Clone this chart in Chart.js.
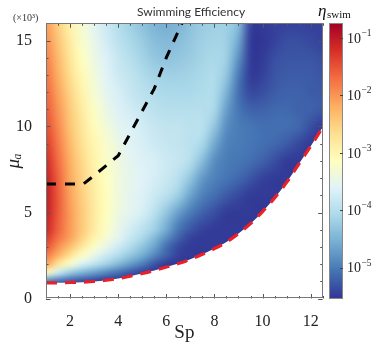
<!DOCTYPE html>
<html><head><meta charset="utf-8">
<script src="https://cdn.jsdelivr.net/npm/chart.js@4.4.0/dist/chart.umd.min.js"></script>
<style>html,body{margin:0;padding:0;background:#fff;overflow:hidden}#wrap{width:374px;height:346px}</style>
</head><body><div id="wrap"><canvas id="c" width="374" height="346"></canvas></div>
<script>
// ---- data (log10 of swimming efficiency) ----
const spGrid = [1,1.5,2,2.5,3,3.5,4,4.5,5,5.5,6,6.5,7,7.5,8,8.5,9,9.5,10,10.5,11,11.5,12,12.5];
const muUpper = [16,15,14,13,12,11,10,9,8,7,6,5,4];
const logEtaUpper = [
 [-2.05,-2.5,-2.95,-3.3,-3.55,-3.8,-4.0,-4.2,-4.35,-4.5,-4.55,-4.5,-4.35,-4.25,-4.2,-4.2,-4.4,-5.45,-5.5,-5.45,-5.45,-5.45,-5.45,-5.45],
 [-1.95,-2.4,-2.85,-3.25,-3.5,-3.75,-3.95,-4.1,-4.25,-4.4,-4.45,-4.4,-4.3,-4.2,-4.15,-4.2,-4.6,-5.5,-5.55,-5.45,-5.35,-5.35,-5.4,-5.45],
 [-1.85,-2.3,-2.75,-3.15,-3.45,-3.65,-3.85,-4.0,-4.15,-4.3,-4.35,-4.3,-4.25,-4.15,-4.1,-4.2,-4.8,-5.5,-5.5,-5.35,-5.3,-5.3,-5.3,-5.35],
 [-1.75,-2.2,-2.65,-3.05,-3.35,-3.6,-3.8,-3.9,-4.05,-4.15,-4.2,-4.2,-4.15,-4.1,-4.05,-4.3,-5.0,-5.5,-5.45,-5.3,-5.25,-5.25,-5.25,-5.3],
 [-1.65,-2.1,-2.55,-2.95,-3.3,-3.55,-3.7,-3.85,-3.95,-4.05,-4.1,-4.1,-4.1,-4.05,-4.05,-4.5,-5.1,-5.4,-5.35,-5.25,-5.2,-5.2,-5.25,-5.25],
 [-1.55,-2.0,-2.45,-2.85,-3.2,-3.45,-3.65,-3.75,-3.85,-3.95,-4.0,-4.0,-4.0,-4.0,-4.1,-4.7,-5.05,-5.2,-5.2,-5.15,-5.15,-5.2,-5.2,-5.25],
 [-1.45,-1.9,-2.4,-2.75,-3.1,-3.35,-3.55,-3.65,-3.75,-3.85,-3.9,-3.9,-3.95,-3.95,-4.3,-4.85,-5.0,-5.05,-5.1,-5.1,-5.1,-5.15,-5.35,-5.5],
 [-1.3,-1.8,-2.3,-2.7,-3.0,-3.25,-3.45,-3.6,-3.7,-3.8,-3.85,-3.9,-3.95,-4.1,-4.6,-4.95,-5.0,-5.05,-5.1,-5.15,-5.25,-5.4,-5.5,null],
 [-1.15,-1.7,-2.2,-2.6,-2.95,-3.2,-3.4,-3.55,-3.65,-3.7,-3.8,-3.85,-4.0,-4.4,-4.85,-5.0,-5.05,-5.1,-5.2,-5.35,-5.5,-5.5,null,null],
 [-1.05,-1.6,-2.15,-2.55,-2.9,-3.15,-3.38,-3.52,-3.62,-3.72,-3.82,-3.98,-4.3,-4.75,-4.95,-5.05,-5.15,-5.3,-5.45,-5.5,-5.5,null,null,null],
 [-1.0,-1.55,-2.1,-2.5,-2.85,-3.12,-3.38,-3.55,-3.65,-3.8,-3.95,-4.2,-4.65,-4.95,-5.1,-5.25,-5.4,-5.5,-5.5,-5.5,null,null,null,null],
 [-1.03,-1.55,-2.05,-2.45,-2.82,-3.12,-3.4,-3.55,-3.7,-3.95,-4.3,-4.7,-5.0,-5.2,-5.35,-5.5,-5.5,-5.5,null,null,null,null,null,null],
 [-1.12,-1.62,-2.05,-2.45,-2.85,-3.2,-3.5,-3.75,-3.95,-4.2,-4.6,-5.05,-5.3,-5.45,-5.5,-5.5,-5.5,null,null,null,null,null,null,null]
];
const muLower = [4,3.5,3,2.5,2,1.5,1,0.5,0];
const logEtaLower = [
 [-1.12,-1.62,-2.05,-2.45,-2.85,-3.2,-3.5,-3.75,-3.95,-4.2,-4.6,-5.05,-5.3,-5.45,-5.5,-5.5,-5.5,null,null,null,null,null,null,null],
 [-1.3,-1.75,-2.1,-2.55,-2.97,-3.3,-3.57,-3.85,-4.1,-4.45,-4.85,-5.2,-5.45,-5.5,-5.5,-5.5,null,null,null,null,null,null,null,null],
 [-1.5,-1.95,-2.35,-2.8,-3.22,-3.5,-3.78,-4.05,-4.33,-4.65,-5.1,-5.4,-5.5,-5.5,-5.5,null,null,null,null,null,null,null,null,null],
 [-1.8,-2.22,-2.7,-3.2,-3.5,-3.8,-4.05,-4.3,-4.57,-4.9,-5.2,-5.45,-5.5,null,null,null,null,null,null,null,null,null,null,null],
 [-2.1,-2.75,-3.27,-3.67,-3.93,-4.18,-4.45,-4.72,-4.98,-5.3,-5.5,null,null,null,null,null,null,null,null,null,null,null,null,null],
 [-3.05,-3.8,-4.25,-4.5,-4.7,-4.9,-5.1,-5.3,-5.45,null,null,null,null,null,null,null,null,null,null,null,null,null,null,null],
 [-4.9,-5.1,-5.25,-5.35,-5.45,null,null,null,null,null,null,null,null,null,null,null,null,null,null,null,null,null,null,null],
 [null,null,null,null,null,null,null,null,null,null,null,null,null,null,null,null,null,null,null,null,null,null,null,null],
 [null,null,null,null,null,null,null,null,null,null,null,null,null,null,null,null,null,null,null,null,null,null,null,null]
];
// lower limit of the valid region (red dashed line)
const boundarySp = [1,1.5,2,2.5,3,3.5,4,4.5,5,5.5,6,6.5,7,7.5,8,8.5,9,9.5,10,10.5,11,11.5,12,12.5];
const boundaryMu = [0.90,0.91,0.93,0.95,0.99,1.06,1.16,1.30,1.45,1.63,1.83,2.03,2.28,2.57,2.90,3.28,3.78,4.35,5.05,5.85,6.75,7.8,8.85,9.95];
// black dashed line
const blackSp = [1,2.55,3,3.5,4,4.5,5,5.5,6,6.5,6.65];
const blackMu = [6.65,6.65,7.15,7.73,8.3,9.6,10.9,12.2,14.0,15.55,16.0];
// axes
const xTickValues = [2,4,6,8,10,12];
const yTickValues = [0,5,10,15];
const cbExponents = [-5,-4,-3,-2,-1];
const cbLogMin = -5.535, cbLogMax = -0.745;

// ---- colour map (RdYlBu reversed) ----
const STOPS = ['#313695','#4575b4','#74add1','#abd9e9','#e0f3f8','#ffffbf','#fee090','#fdae61','#f46d43','#d73027','#a50026']
  .map(h => [parseInt(h.slice(1,3),16), parseInt(h.slice(3,5),16), parseInt(h.slice(5,7),16)]);
function cmap(v) {
  let t = (v - cbLogMin) / (cbLogMax - cbLogMin);
  t = Math.max(0, Math.min(1, t));
  const n = STOPS.length - 1, f = t * n, i = Math.min(n - 1, Math.floor(f)), u = f - i;
  const a = STOPS[i], b = STOPS[i + 1];
  return [a[0] + (b[0]-a[0])*u, a[1] + (b[1]-a[1])*u, a[2] + (b[2]-a[2])*u];
}
function gridCanvas(rows) {
  const w = spGrid.length, h = rows.length;
  const c = document.createElement('canvas'); c.width = w; c.height = h;
  const g = c.getContext('2d'); const img = g.createImageData(w, h);
  for (let r = 0; r < h; r++) for (let k = 0; k < w; k++) {
    let v = rows[r][k]; if (v === null) v = cbLogMin;
    const col = cmap(v), o = (r * w + k) * 4;
    img.data[o] = col[0]; img.data[o+1] = col[1]; img.data[o+2] = col[2]; img.data[o+3] = 255;
  }
  g.putImageData(img, 0, 0); return c;
}

const heatmapPlugin = {
  id: 'heatmap',
  beforeDatasetsDraw(chart) {
    const {ctx, chartArea: a, scales: {x, y}} = chart;
    const hs = (spGrid[1] - spGrid[0]) / 2;
    const px0 = x.getPixelForValue(spGrid[0] - hs), px1 = x.getPixelForValue(spGrid[spGrid.length-1] + hs);
    const seam = Math.round(y.getPixelForValue(muLower[0]));
    const floor = Math.round(y.getPixelForValue(Math.min(...boundaryMu) - 0.15));
    const draw = (mus, rows, top, bot) => {
      const hm = Math.abs(mus[0] - mus[1]) / 2;
      const py0 = y.getPixelForValue(mus[0] + hm), py1 = y.getPixelForValue(mus[mus.length-1] - hm);
      ctx.save(); ctx.beginPath(); ctx.rect(a.left, top, a.right - a.left, bot - top); ctx.clip();
      ctx.imageSmoothingEnabled = true; ctx.imageSmoothingQuality = 'high';
      ctx.drawImage(gridCanvas(rows), px0, py0, px1 - px0, py1 - py0);
      ctx.restore();
    };
    draw(muUpper, logEtaUpper, a.top, seam + 1);
    draw(muLower, logEtaLower, seam, Math.min(a.bottom, floor));
  }
};

const framePlugin = {
  id: 'frame',
  afterDatasetsDraw(chart) {
    const {ctx, chartArea: a, scales: {x, y, y2}} = chart;
    ctx.save();
    // ticks (inward, all four sides)
    ctx.strokeStyle = '#555'; ctx.lineWidth = 1;
    ctx.beginPath();
    for (let v = x.min; v <= x.max + 1e-9; v += 0.5) {
      const p = Math.round(x.getPixelForValue(v)) + 0.5;
      const L = xTickValues.includes(v) ? 4.5 : 2.5;
      ctx.moveTo(p, a.bottom); ctx.lineTo(p, a.bottom - L);
      ctx.moveTo(p, a.top); ctx.lineTo(p, a.top + L);
    }
    for (let v = y.min; v <= y.max + 1e-9; v += 1) {
      const p = Math.round(y.getPixelForValue(v)) + 0.5;
      const L = yTickValues.includes(v) ? 4.5 : 2.5;
      ctx.moveTo(a.left, p); ctx.lineTo(a.left + L, p);
      ctx.moveTo(a.right, p); ctx.lineTo(a.right - L, p);
    }
    ctx.stroke();
    // frame
    ctx.strokeStyle = '#777';
    ctx.strokeRect(Math.round(a.left) + 0.5, Math.round(a.top) + 0.5, Math.round(a.right - a.left) - 1, Math.round(a.bottom - a.top) - 1);
    // colour bar
    const cx0 = Math.round(a.right + 6.3), cw = 14;
    const t0 = Math.round(y2.top), t1 = Math.round(y2.bottom);
    for (let py = t0; py < t1; py++) {
      const col = cmap(Math.log10(y2.getValueForPixel(py + 0.5)));
      ctx.fillStyle = `rgb(${col[0]|0},${col[1]|0},${col[2]|0})`;
      ctx.fillRect(cx0, py, cw, 1);
    }
    ctx.strokeStyle = '#888';
    ctx.strokeRect(cx0 + 0.5, t0 + 0.5, cw - 1, t1 - t0 - 1);
    ctx.strokeStyle = '#444'; ctx.beginPath();
    cbExponents.forEach(e => {
      const p = Math.round(y2.getPixelForValue(Math.pow(10, e))) + 0.5;
      ctx.moveTo(cx0 + cw, p); ctx.lineTo(cx0 + cw - 3, p);
    });
    ctx.stroke();
    // colour bar labels 10^k
    ctx.fillStyle = '#222'; ctx.textAlign = 'left'; ctx.textBaseline = 'middle';
    cbExponents.forEach(e => {
      const p = y2.getPixelForValue(Math.pow(10, e));
      ctx.font = '14px "Liberation Serif"';
      ctx.fillText('10', 347, p + 1);
      const w = ctx.measureText('10').width;
      ctx.font = '9.5px "Liberation Serif"';
      ctx.fillText('\u2212' + Math.abs(e), 347 + w + 0.5, p - 4.5);
    });
    // extra labels
    ctx.textBaseline = 'alphabetic';
    ctx.fillStyle = '#333';
    ctx.font = '10px "Liberation Serif"';
    ctx.fillText('(\u00D710\u00B3)', 13, 21);
    ctx.fillStyle = '#111';
    ctx.font = 'italic 17px "Liberation Serif"';
    ctx.fillText('\u03B7', 318, 15.5);
    ctx.font = '11px "Liberation Serif"';
    ctx.fillText('swim', 327, 17.5);
    ctx.restore();
  }
};

const serif = 'Liberation Serif';
new Chart(document.getElementById('c'), {
  type: 'scatter',
  data: { datasets: [
    { label: 'lower limit', data: boundarySp.map((v, i) => ({x: v, y: boundaryMu[i]})), showLine: true,
      borderColor: '#e8202a', borderWidth: 3.2, borderDash: [11, 8], pointRadius: 0, fill: 'origin',
      backgroundColor: '#ffffff', cubicInterpolationMode: 'monotone', order: 2 },
    { label: 'black', data: blackSp.map((v, i) => ({x: v, y: blackMu[i]})), showLine: true,
      borderColor: '#000000', borderWidth: 3, borderDash: [10, 9], pointRadius: 0, fill: false, order: 1 }
  ]},
  options: {
    responsive: false, animation: false, devicePixelRatio: 1,
    layout: { padding: { left: 8, right: 0, top: 0, bottom: 0 } },
    plugins: {
      legend: { display: false }, tooltip: { enabled: false },
      title: { display: true, text: 'Swimming Efficiency', color: '#333',
        font: { family: 'Lato', size: 12, weight: 'normal', lineHeight: 1.2 }, padding: { top: 5.2, bottom: 3.7 } }
    },
    scales: {
      x: { type: 'linear', min: 1, max: 12.5, grid: { display: false }, border: { display: false },
        afterBuildTicks: s => { s.ticks = xTickValues.map(v => ({ value: v })); },
        afterFit: s => { s.height = 47.5; },
        ticks: { color: '#222', font: { family: serif, size: 16 }, padding: 6, maxRotation: 0, autoSkip: false },
        title: { display: true, text: 'Sp', color: '#222', font: { family: serif, size: 19, lineHeight: 1 }, padding: { top: 0, bottom: 3.5 } } },
      y: { type: 'linear', min: 0, max: 16, grid: { display: false }, border: { display: false },
        afterBuildTicks: s => { s.ticks = yTickValues.map(v => ({ value: v })); },
        afterFit: s => { s.width = 38; },
        ticks: { color: '#222', font: { family: serif, size: 16 }, padding: 6, autoSkip: false },
        title: { display: true, text: '\u03BC\u2090', color: '#222', font: { family: serif, size: 19, style: 'italic', lineHeight: 1 }, padding: { top: -3.5, bottom: 0 } } },
      y2: { type: 'logarithmic', position: 'right', min: Math.pow(10, cbLogMin), max: Math.pow(10, cbLogMax),
        grid: { display: false }, border: { display: false },
        afterBuildTicks: s => { s.ticks = cbExponents.map(e => ({ value: Math.pow(10, e) })); },
        afterFit: s => { s.width = 51.3; },
        ticks: { display: false } }
    }
  },
  plugins: [heatmapPlugin, framePlugin]
});
</script></body></html>
